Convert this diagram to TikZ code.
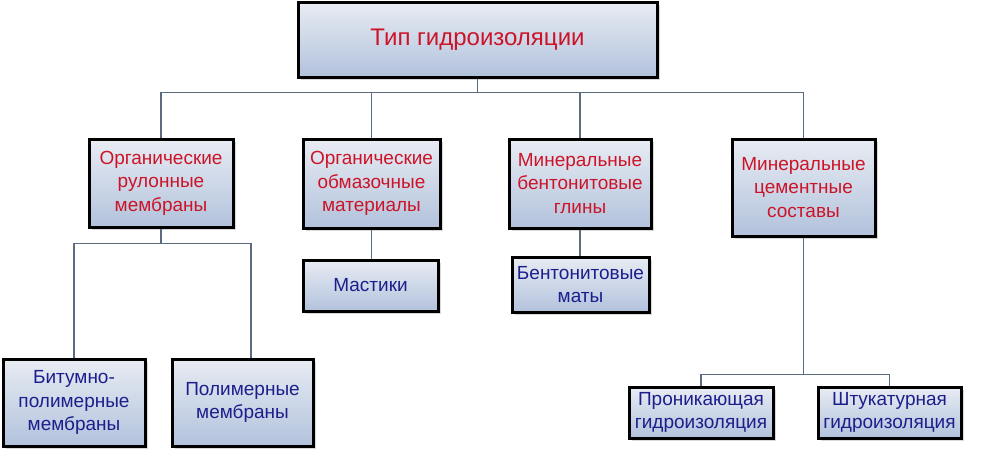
\documentclass[tikz,border=0pt]{standalone}
\usepackage{fontspec}
\setmainfont{Liberation Sans}
\usetikzlibrary{shadows}
\definecolor{txtred}{RGB}{204,20,40}
\definecolor{txtblue}{RGB}{28,30,140}
\definecolor{boxtop}{RGB}{232,236,243}
\definecolor{boxbot}{RGB}{178,194,220}
\definecolor{connc}{RGB}{92,108,128}
\tikzset{
  box/.style={draw=black, line width=3pt, top color=boxtop, bottom color=boxbot,
    drop shadow={shadow xshift=3pt, shadow yshift=-3pt, opacity=0.3, fill=gray},
    align=center, inner sep=2pt, font=\fontsize{19}{23.5}\selectfont},
  lvl1/.style={box, text=txtred},
  lvl2/.style={box, text=txtblue},
  conn/.style={draw=connc, line width=1.3pt}
}
\begin{document}
\begin{tikzpicture}[x=1pt,y=-1pt]
\fill[white] (0,0) rectangle (987,453);
\useasboundingbox (0,0) rectangle (987,453);
\node[lvl1, minimum width=359, minimum height=75, font=\fontsize{24}{28}\selectfont] (top) at (477.5,39.5) {Тип гидроизоляции};
\node[lvl1, minimum width=144, minimum height=88] (b1) at (161,183) {Органические\\рулонные\\мембраны};
\node[lvl1, minimum width=137, minimum height=89] (b2) at (371.5,183.5) {Органические\\обмазочные\\материалы};
\node[lvl1, minimum width=142, minimum height=89] (b3) at (580,183.5) {Минеральные\\бентонитовые\\глины};
\node[lvl1, minimum width=143, minimum height=97] (b4) at (803.5,187.5) {Минеральные\\цементные\\составы};
\node[lvl2, minimum width=142, minimum height=87] (b5) at (74,402.5) {Битумно-\\полимерные\\мембраны};
\node[lvl2, minimum width=141, minimum height=87] (b6) at (242.5,402.5) {Полимерные\\мембраны};
\node[lvl2, minimum width=135, minimum height=51] (b7) at (370.5,285.5) {Мастики};
\node[lvl2, minimum width=137, minimum height=55] (b8) at (580.5,284.5) {Бентонитовые\\маты};
\node[lvl2, minimum width=144, minimum height=51] (b9) at (701,412.5) {Проникающая\\гидроизоляция};
\node[lvl2, minimum width=143, minimum height=51] (b10) at (889.5,412.5) {Штукатурная\\гидроизоляция};
\draw[conn] (top.south) -- ++(0,14) -| (b1.north);
\draw[conn] (top.south) -- ++(0,14) -| (b2.north);
\draw[conn] (top.south) -- ++(0,14) -| (b3.north);
\draw[conn] (top.south) -- ++(0,14) -| (b4.north);
\draw[conn] (b1.south) -- ++(0,15) -| (b5.north);
\draw[conn] (b1.south) -- ++(0,15) -| ([xshift=8.5pt]b6.north);
\draw[conn] (b2.south) -- (b2.south |- b7.north);
\draw[conn] (b3.south) -- (b3.south |- b8.north);
\draw[conn] (b4.south) -- ++(0,137) -| (b9.north);
\draw[conn] (b4.south) -- ++(0,137) -| (b10.north);
\end{tikzpicture}
\end{document}
